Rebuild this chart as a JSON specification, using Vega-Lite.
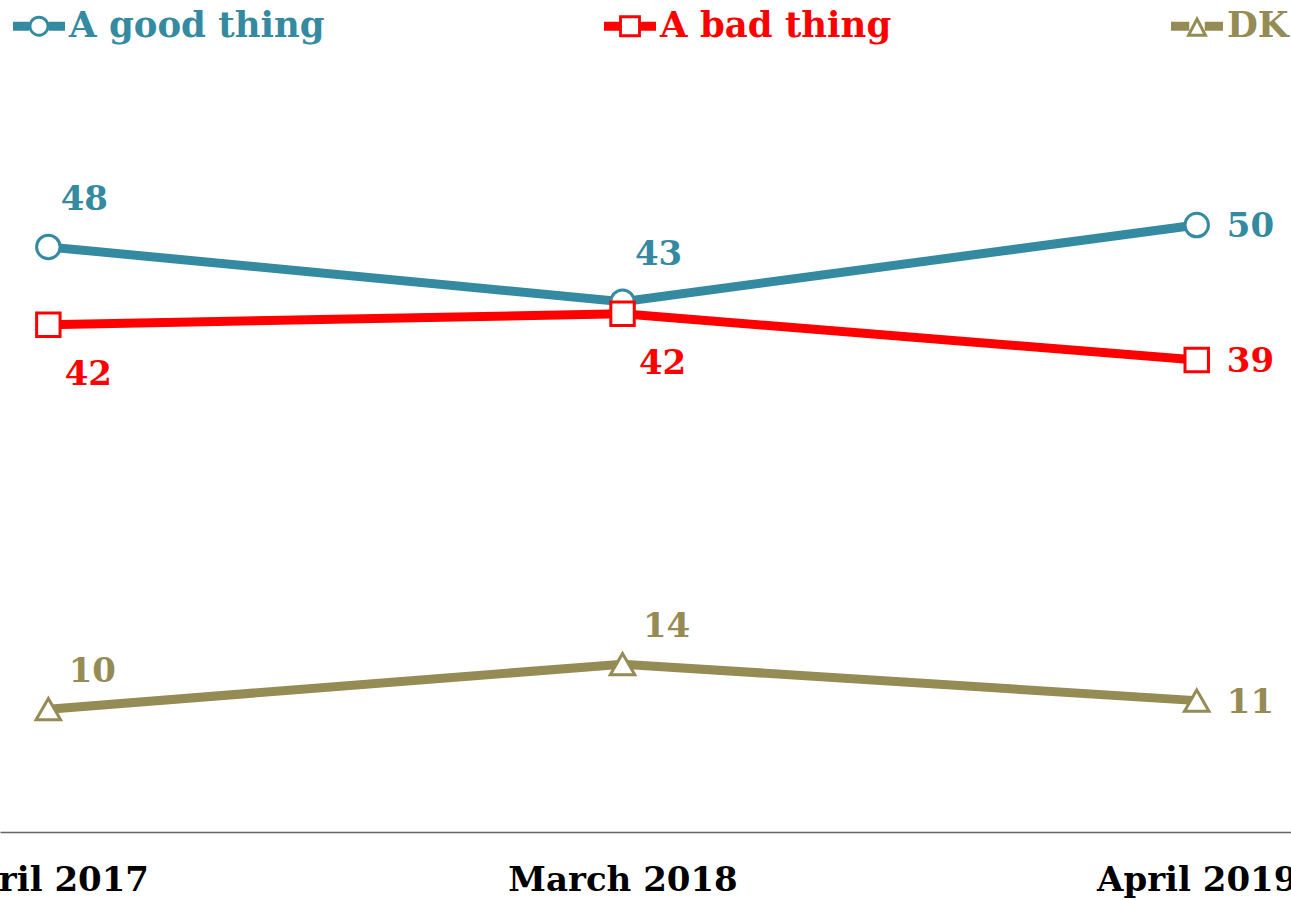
{
  "$schema": "https://vega.github.io/schema/vega-lite/v6.json",
  "width": 1291,
  "height": 832,
  "autosize": {"type": "none"},
  "padding": {"left": 0, "right": 0, "top": 0, "bottom": 68},
  "background": "white",
  "config": {"view": {"stroke": null}, "font": "DejaVu Serif"},
  "data": {
    "values": [
      {"series": "A good thing", "period": "April 2017", "value": 48.1, "label": "48"},
      {"series": "A good thing", "period": "March 2018", "value": 43.6, "label": "43"},
      {"series": "A good thing", "period": "April 2019", "value": 49.9, "label": "50"},
      {"series": "A bad thing", "period": "April 2017", "value": 41.7, "label": "42"},
      {"series": "A bad thing", "period": "March 2018", "value": 42.6, "label": "42"},
      {"series": "A bad thing", "period": "April 2019", "value": 38.8, "label": "39"},
      {"series": "DK", "period": "April 2017", "value": 10.1, "label": "10"},
      {"series": "DK", "period": "March 2018", "value": 13.8, "label": "14"},
      {"series": "DK", "period": "April 2019", "value": 10.8, "label": "11"}
    ]
  },
  "encoding": {
    "x": {
      "field": "period",
      "type": "ordinal",
      "sort": ["April 2017", "March 2018", "April 2019"],
      "scale": {"type": "point", "padding": 0.1242, "align": 0.339},
      "axis": {
        "title": null,
        "labelAngle": 0,
        "ticks": false,
        "grid": false,
        "domainColor": "#666666",
        "domainWidth": 1.5,
        "labelFont": "DejaVu Serif",
        "labelFontWeight": "bold",
        "labelFontSize": 34,
        "labelColor": "#000000",
        "labelPadding": 31,
        "labelLimit": 600,
        "labelOverlap": false,
        "labelBound": false,
        "labelFlush": false
      }
    },
    "y": {
      "field": "value",
      "type": "quantitative",
      "scale": {"domain": [0, 68.4], "nice": false, "zero": false},
      "axis": null
    },
    "color": {
      "field": "series",
      "type": "nominal",
      "scale": {
        "domain": ["A good thing", "A bad thing", "DK"],
        "range": ["#348aa0", "#ff0000", "#958b55"]
      },
      "legend": {
        "orient": "none",
        "legendX": 13,
        "legendY": 0,
        "direction": "horizontal",
        "columns": 3,
        "title": null,
        "padding": 0,
        "columnPadding": 279,
        "symbolSize": 2704,
        "symbolStrokeWidth": 0,
        "labelFont": "DejaVu Serif",
        "labelFontWeight": "bold",
        "labelFontSize": 35.5,
        "labelOffset": 4,
        "labelLimit": 600,
        "encode": {
          "symbols": {
            "update": {
              "shape": {"signal": "datum.value === 'A good thing' ? 'M-1,-0.17H-0.38V0.17H-1Z M0.38,-0.17H1V0.17H0.38Z M0.4,0A0.4,0.4,0,1,1,-0.4,0A0.4,0.4,0,1,1,0.4,0Z M0.29,0A0.29,0.29,0,1,0,-0.29,0A0.29,0.29,0,1,0,0.29,0Z' : datum.value === 'A bad thing' ? 'M-1,-0.17H-0.42V0.17H-1Z M0.42,-0.17H1V0.17H0.42Z M-0.42,-0.42H0.42V0.42H-0.42Z M-0.31,-0.31V0.31H0.31V-0.31Z' : 'M-1,-0.17H-0.3V0.17H-1Z M0.3,-0.17H1V0.17H0.3Z M0,-0.4L0.42,0.4H-0.42Z M0,-0.153L-0.23,0.285H0.23Z'"},
              "fill": {"signal": "scale('color', datum.value)"},
              "fillOpacity": {"value": 1},
              "opacity": {"value": 1},
              "strokeWidth": {"value": 0}
            }
          },
          "labels": {
            "update": {
              "fill": {"signal": "scale('color', datum.value)"}
            }
          }
        }
      }
    }
  },
  "layer": [
    {"mark": {"type": "line", "strokeWidth": 9}},
    {
      "transform": [{"filter": "datum.series === 'A good thing'"}],
      "mark": {"type": "point", "shape": "circle", "filled": false, "fill": "white", "fillOpacity": 1, "opacity": 1, "strokeWidth": 3, "size": 550}
    },
    {
      "transform": [{"filter": "datum.series === 'A bad thing'"}],
      "mark": {"type": "point", "shape": "square", "filled": false, "fill": "white", "fillOpacity": 1, "opacity": 1, "strokeWidth": 3, "size": 550}
    },
    {
      "transform": [{"filter": "datum.series === 'DK'"}],
      "mark": {"type": "point", "shape": "triangle-up", "filled": false, "fill": "white", "fillOpacity": 1, "opacity": 1, "strokeWidth": 3, "size": 600}
    },
    {
      "transform": [{"filter": "datum.series === 'A good thing' && datum.period !== 'April 2019'"}],
      "mark": {"type": "text", "dx": 36, "dy": -37, "align": "center", "baseline": "alphabetic", "font": "DejaVu Serif", "fontWeight": "bold", "fontSize": 34},
      "encoding": {"text": {"field": "label"}}
    },
    {
      "transform": [{"filter": "datum.series === 'DK' && datum.period !== 'April 2019'"}],
      "mark": {"type": "text", "dx": 44, "dy": -27, "align": "center", "baseline": "alphabetic", "font": "DejaVu Serif", "fontWeight": "bold", "fontSize": 34},
      "encoding": {"text": {"field": "label"}}
    },
    {
      "transform": [{"filter": "datum.series === 'A bad thing' && datum.period !== 'April 2019'"}],
      "mark": {"type": "text", "dx": 40, "dy": 60, "align": "center", "baseline": "alphabetic", "font": "DejaVu Serif", "fontWeight": "bold", "fontSize": 34},
      "encoding": {"text": {"field": "label"}}
    },
    {
      "transform": [{"filter": "datum.period === 'April 2019'"}],
      "mark": {"type": "text", "dx": 30, "dy": 12, "align": "left", "baseline": "alphabetic", "font": "DejaVu Serif", "fontWeight": "bold", "fontSize": 34},
      "encoding": {"text": {"field": "label"}}
    }
  ]
}
